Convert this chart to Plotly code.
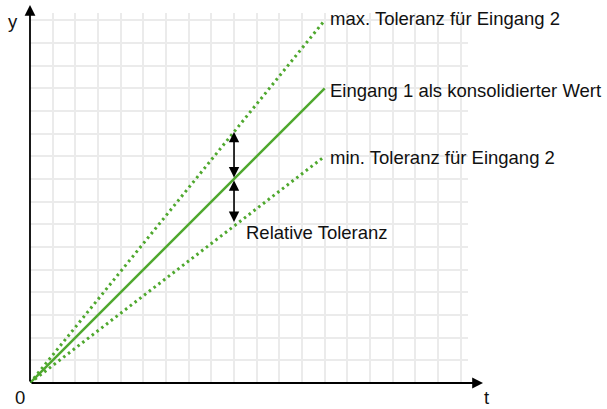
import plotly.graph_objects as go

# ---- data (grid units) ----
t_values = [0, 13]
consolidated = [0, 13]      # Eingang 1 als konsolidierter Wert
max_tolerance = [0, 16]     # max. Toleranz für Eingang 2
min_tolerance = [0, 10]     # min. Toleranz für Eingang 2
arrow_t = 9                 # position of the "Relative Toleranz" arrows

labels = {
    "max": "max. Toleranz für Eingang 2",
    "cons": "Eingang 1 als konsolidierter Wert",
    "min": "min. Toleranz für Eingang 2",
    "rel": "Relative Toleranz",
}

GREEN = "#4fa82e"
FONT = dict(family="Liberation Sans, Arial, sans-serif", size=18.5, color="#111111")

W, H = 607, 409
L, T = 30, 13
PW, PH = 438, 370
UNIT = 22.67
XMAX = PW / UNIT
YMAX = PH / UNIT

fig = go.Figure()
fig.add_trace(go.Scatter(x=t_values, y=max_tolerance, mode="lines",
                         line=dict(color=GREEN, width=3, dash="2.5px,3.5px"),
                         cliponaxis=False, hoverinfo="skip"))
fig.add_trace(go.Scatter(x=t_values, y=consolidated, mode="lines",
                         line=dict(color=GREEN, width=2.5),
                         cliponaxis=False, hoverinfo="skip"))
fig.add_trace(go.Scatter(x=t_values, y=min_tolerance, mode="lines",
                         line=dict(color=GREEN, width=3, dash="2.5px,3.5px"),
                         cliponaxis=False, hoverinfo="skip"))


def interp(series, t):
    return series[0] + (series[1] - series[0]) * (t - t_values[0]) / (t_values[1] - t_values[0])


y_max_a = interp(max_tolerance, arrow_t)
y_cons_a = interp(consolidated, arrow_t)
y_min_a = interp(min_tolerance, arrow_t)

ann = []
# double arrows
for y_from, y_to in [(y_cons_a, y_max_a), (y_cons_a, y_min_a + 0.18)]:
    ann.append(dict(x=arrow_t, y=y_to, ax=arrow_t, ay=y_from, xref="x", yref="y",
                    axref="x", ayref="y", showarrow=True, arrowhead=2,
                    arrowside="end+start", arrowsize=1.3, arrowwidth=1.6,
                    arrowcolor="black", text="", standoff=0, startstandoff=0))

# axes arrows
ann.append(dict(x=(483 - L) / PW, y=0, xref="paper", yref="paper", ax=-(483 - L), ay=0,
                showarrow=True, arrowhead=2, arrowsize=1.2, arrowwidth=1.8,
                arrowcolor="black", text=""))
ann.append(dict(x=0, y=(383 - 5) / PH, xref="paper", yref="paper", ax=0, ay=(383 - 5),
                showarrow=True, arrowhead=2, arrowsize=1.2, arrowwidth=1.8,
                arrowcolor="black", text=""))

# line labels
lx = t_values[1] + 0.15
ann.append(dict(x=lx, y=max_tolerance[1] + 0.08, xref="x", yref="y",
                text=labels["max"], showarrow=False, xanchor="left", yanchor="middle", font=FONT))
ann.append(dict(x=lx, y=consolidated[1] - 0.1, xref="x", yref="y",
                text=labels["cons"], showarrow=False, xanchor="left", yanchor="middle", font=FONT))
ann.append(dict(x=lx, y=min_tolerance[1] - 0.05, xref="x", yref="y",
                text=labels["min"], showarrow=False, xanchor="left", yanchor="middle", font=FONT))
ann.append(dict(x=arrow_t + 0.42, y=y_min_a - 0.3, xref="x", yref="y",
                text=labels["rel"], showarrow=False, xanchor="left", yanchor="middle", font=FONT))

# axis letters
ann.append(dict(x=(13 - L) / PW, y=(383 - 22) / PH, xref="paper", yref="paper",
                text="y", showarrow=False, xanchor="center", yanchor="middle", font=FONT))
ann.append(dict(x=(20 - L) / PW, y=(383 - 397) / PH, xref="paper", yref="paper",
                text="0", showarrow=False, xanchor="center", yanchor="middle", font=FONT,
                borderpad=0))
ann.append(dict(x=(486 - L) / PW, y=(383 - 397) / PH, xref="paper", yref="paper",
                text="t", showarrow=False, xanchor="center", yanchor="middle", font=FONT,
                borderpad=0))

grid = dict(showgrid=True, gridcolor="#ebebeb", gridwidth=1.5, dtick=1, tick0=0,
            showticklabels=False, zeroline=False, showline=False, ticks="")

fig.update_layout(
    width=W, height=H,
    margin=dict(l=L, r=W - L - PW, t=T, b=H - T - PH, pad=0),
    paper_bgcolor="white", plot_bgcolor="white",
    showlegend=False,
    xaxis=dict(range=[0, XMAX], fixedrange=True, **grid),
    yaxis=dict(range=[0, YMAX], fixedrange=True, **grid),
    annotations=ann,
)

fig.write_html("out.html", config={"displayModeBar": False},
               post_script="document.body.style.margin='0';document.body.style.overflow='hidden';")
